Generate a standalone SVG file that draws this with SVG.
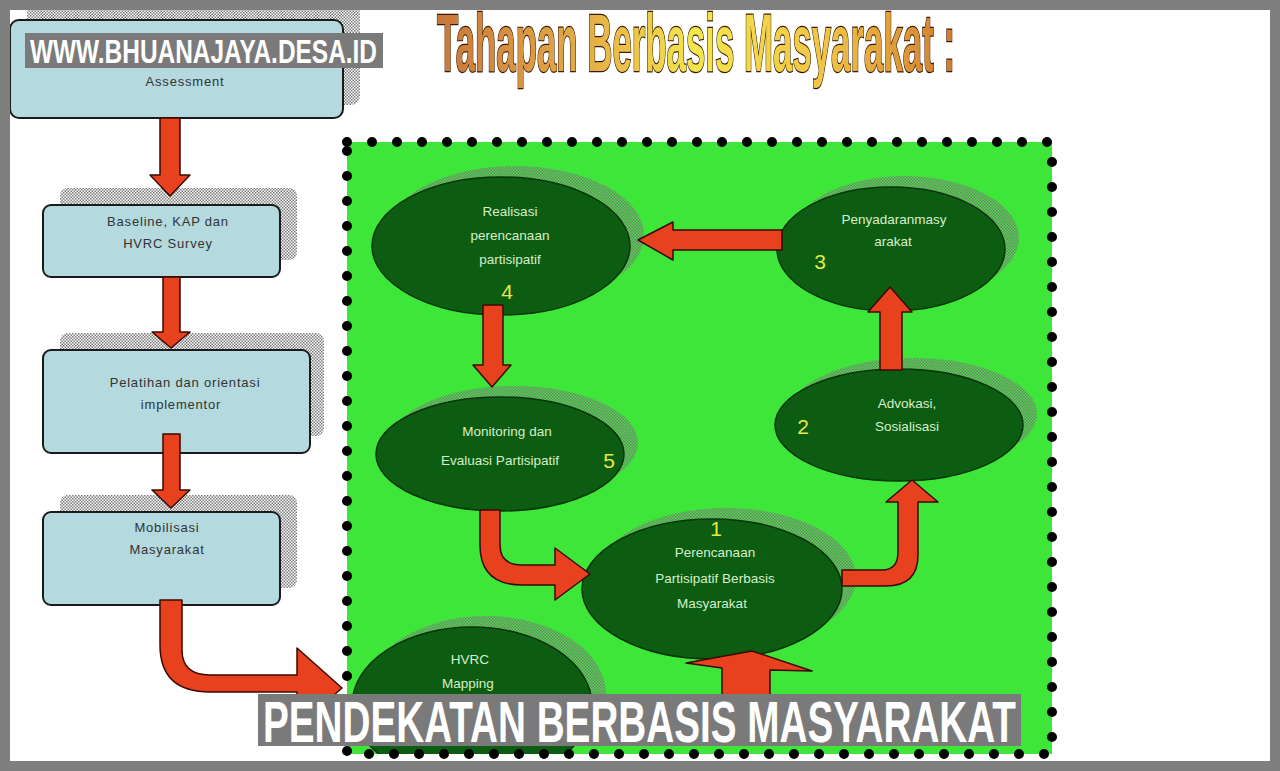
<svg xmlns="http://www.w3.org/2000/svg" width="1280" height="771" viewBox="0 0 1280 771">
<defs>
<pattern id="chk" width="3" height="3" patternUnits="userSpaceOnUse">
<rect x="0" y="0" width="1.5" height="1.5" fill="#7a7a7a"/>
<rect x="1.5" y="1.5" width="1.5" height="1.5" fill="#7a7a7a"/>
</pattern>
<linearGradient id="tg" x1="0" y1="0" x2="1" y2="0">
<stop offset="0" stop-color="#c8763a"/>
<stop offset="0.3" stop-color="#e6b048"/>
<stop offset="0.5" stop-color="#f4e64c"/>
<stop offset="0.75" stop-color="#f0c444"/>
<stop offset="1" stop-color="#d07a30"/>
</linearGradient>
<clipPath id="gclip"><rect x="347" y="142" width="705" height="612"/></clipPath>
<style>
.box{fill:#b4d9df;stroke:#1a1a1a;stroke-width:2}
.bsh{fill:url(#chk)}
.bt{font-family:"Liberation Sans",Arial,sans-serif;font-size:13px;fill:#333;text-anchor:middle;letter-spacing:0.8px}
.ell{fill:#0c5c12;stroke:#063506;stroke-width:1.5}
.esh{fill:url(#chk)}
.et{font-family:"Liberation Sans",Arial,sans-serif;font-size:13.5px;fill:#d6efc8;text-anchor:middle}
.num{font-family:"Liberation Sans",Arial,sans-serif;font-size:21px;fill:#e6e84a;text-anchor:middle}
.arr{fill:#e8411e;stroke:#3a0a00;stroke-width:1.5;stroke-linejoin:round}
.cap{font-family:"Liberation Sans Narrow","Liberation Sans",Arial,sans-serif;font-weight:bold;fill:#fff}
</style>
</defs>
<rect x="0" y="0" width="1280" height="771" fill="#ffffff"/>

<g id="title">
<text x="437" y="71" font-family="'Liberation Sans Narrow','Liberation Sans',Arial,sans-serif" font-weight="bold" font-size="82" textLength="518" lengthAdjust="spacingAndGlyphs" fill="url(#tg)" stroke="#3a1a00" stroke-width="2.4" paint-order="stroke">Tahapan Berbasis Masyarakat :</text>
</g>

<g id="box-assessment">
<rect class="bsh" x="27" y="4" width="333" height="101" rx="9"/>
<rect class="box" x="10" y="20" width="333" height="98" rx="9"/>
<text class="bt" x="185" y="86">Assessment</text>
</g>
<g id="box-baseline">
<rect class="bsh" x="60" y="188" width="237" height="72" rx="8"/>
<rect class="box" x="43" y="205" width="237" height="72" rx="8"/>
<text class="bt" x="168" y="226">Baseline, KAP dan</text>
<text class="bt" x="168" y="248">HVRC Survey</text>
</g>
<g id="box-pelatihan">
<rect class="bsh" x="60" y="333" width="264" height="103" rx="8"/>
<rect class="box" x="43" y="350" width="267" height="103" rx="8"/>
<text class="bt" x="185" y="387">Pelatihan dan orientasi</text>
<text class="bt" x="181" y="409">implementor</text>
</g>
<g id="box-mobilisasi">
<rect class="bsh" x="60" y="495" width="237" height="93" rx="8"/>
<rect class="box" x="43" y="512" width="237" height="93" rx="8"/>
<text class="bt" x="167" y="532">Mobilisasi</text>
<text class="bt" x="167" y="554">Masyarakat</text>
</g>

<g id="green-area">
<rect x="347" y="142" width="705" height="612" fill="#3fe63a"/>
</g>

<g clip-path="url(#gclip)">
<g id="node-4">
<ellipse class="esh" cx="515" cy="235" rx="129" ry="69"/>
<ellipse class="ell" cx="501" cy="246" rx="129" ry="69"/>
<text class="et" x="510" y="216">Realisasi</text>
<text class="et" x="510" y="240">perencanaan</text>
<text class="et" x="510" y="264">partisipatif</text>
<text class="num" x="507" y="299">4</text>
</g>
<g id="node-3">
<ellipse class="esh" cx="905" cy="238" rx="114" ry="62"/>
<ellipse class="ell" cx="891" cy="249" rx="114" ry="62"/>
<text class="et" x="894" y="224">Penyadaranmasy</text>
<text class="et" x="893" y="246">arakat</text>
<text class="num" x="820" y="269">3</text>
</g>
<g id="node-2">
<ellipse class="esh" cx="913" cy="414" rx="124" ry="56"/>
<ellipse class="ell" cx="899" cy="425" rx="124" ry="56"/>
<text class="et" x="907" y="408">Advokasi,</text>
<text class="et" x="907" y="431">Sosialisasi</text>
<text class="num" x="803" y="434">2</text>
</g>
<g id="node-5">
<ellipse class="esh" cx="514" cy="443" rx="124" ry="57"/>
<ellipse class="ell" cx="500" cy="454" rx="124" ry="57"/>
<text class="et" x="507" y="436">Monitoring dan</text>
<text class="et" x="500" y="465">Evaluasi Partisipatif</text>
<text class="num" x="609" y="468">5</text>
</g>
<g id="node-1">
<ellipse class="esh" cx="726" cy="578" rx="130" ry="70"/>
<ellipse class="ell" cx="712" cy="589" rx="130" ry="70"/>
<text class="num" x="716" y="536">1</text>
<text class="et" x="715" y="557">Perencanaan</text>
<text class="et" x="715" y="583">Partisipatif Berbasis</text>
<text class="et" x="712" y="608">Masyarakat</text>
</g>
<g id="node-hvrc">
<ellipse class="esh" cx="486" cy="694" rx="120" ry="78"/>
<ellipse class="ell" cx="472" cy="705" rx="120" ry="78"/>
<text class="et" x="470" y="664">HVRC</text>
<text class="et" x="468" y="688">Mapping</text>
</g>
</g>

<g id="connectors">
<polygon class="arr" points="160,118 180,118 180,175 190,175 170,196 150,175 160,175"/>
<polygon class="arr" points="163,277 180,277 180,332 190,332 171,348 152,332 163,332"/>
<polygon class="arr" points="163,434 180,434 180,490 190,490 171,508 152,490 163,490"/>
<path class="arr" d="M160,600 L182,600 L182,650 Q182,675 210,675 L297,675 L297,648 L342,688 L297,728 L297,692 L210,692 Q160,692 160,645 Z"/>
<polygon class="arr" points="782,230 782,250 673,250 673,260 638,240 673,222 673,230"/>
<polygon class="arr" points="483,305 503,305 503,365 511,365 492,387 473,365 483,365"/>
<polygon class="arr" points="880,370 902,370 902,312 912,312 890,287 868,312 880,312"/>
<path class="arr" d="M480,510 L500,510 L500,545 Q500,565 522,565 L555,565 L555,548 L590,574 L555,600 L555,585 L522,585 Q480,585 480,545 Z"/>
<path class="arr" d="M842,570 L882,570 Q898,570 898,552 L898,502 L886,502 L912,480 L938,502 L918,502 L918,555 Q918,586 886,586 L842,586 Z"/>
<polygon class="arr" points="686,663 752,651 812,671 770,670 770,700 722,700 722,668"/>
</g>

<g id="green-border">
<rect x="347" y="142" width="705" height="612" fill="none" stroke="#000" stroke-width="10" stroke-dasharray="0 25" stroke-linecap="round"/>
</g>

<g id="frame">
<path d="M0,0 H1280 V771 H0 Z M10,10 V761 H1270 V10 Z" fill="#7f7f7f" fill-rule="evenodd"/>
</g>

<g id="watermark">
<rect x="25" y="33" width="358" height="35" fill="#7a7a7a"/>
<text class="cap" x="30" y="63" font-size="34" textLength="347" lengthAdjust="spacingAndGlyphs">WWW.BHUANAJAYA.DESA.ID</text>
</g>
<g id="banner">
<rect x="258" y="694" width="763" height="52" fill="#7a7a7a"/>
<text class="cap" x="263" y="742" font-size="58" textLength="753" lengthAdjust="spacingAndGlyphs">PENDEKATAN BERBASIS MASYARAKAT</text>
</g>
</svg>
